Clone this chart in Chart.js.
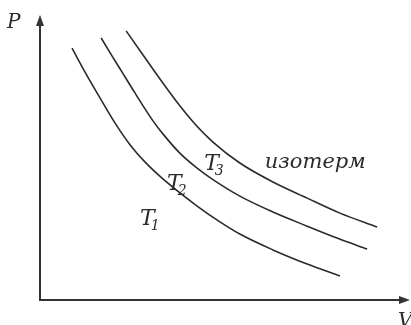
<!DOCTYPE html>
<html>
<head>
<meta charset="utf-8">
<script src="https://cdn.jsdelivr.net/npm/chart.js@4/dist/chart.umd.min.js"></script>
<style>
  html, body { margin: 0; padding: 0; background: #ffffff; }
  #wrap { width: 411px; height: 325px; position: relative; }
</style>
</head>
<body>
<div id="wrap"><canvas id="c"></canvas></div>
<script>
// Isotherms P(V) for three temperatures T1 < T2 < T3 (arbitrary units)
const volumeT1 = [0.87, 1.22, 1.63, 2.04, 2.45, 2.85, 3.34, 4.27, 4.89, 5.43, 6.33, 7.26, 8.15];
const pressureT1 = [8.90, 8.06, 7.14, 6.25, 5.48, 4.88, 4.28, 3.32, 2.76, 2.33, 1.77, 1.27, 0.85];

const volumeT2 = [1.66, 1.96, 2.26, 2.53, 2.80, 3.07, 3.34, 3.80, 4.27, 4.76, 5.43, 6.33, 7.26, 8.07, 8.89];
const pressureT2 = [9.26, 8.62, 7.99, 7.42, 6.86, 6.33, 5.87, 5.19, 4.66, 4.20, 3.67, 3.11, 2.61, 2.19, 1.80];

const volumeT3 = [2.34, 2.80, 3.26, 3.80, 4.21, 4.70, 5.43, 6.33, 7.26, 8.15, 9.16];
const pressureT3 = [9.51, 8.66, 7.81, 6.86, 6.22, 5.58, 4.84, 4.17, 3.60, 3.07, 2.58];

const curveNames = ['T1', 'T2', 'T3'];
const axisTitles = ['V', 'P'];
const captionText = 'изотерм';

const toPoints = (vs, ps) => vs.map((v, i) => ({ x: v, y: ps[i] }));

const INK = '#2b2b2b';
const SERIF = '"DejaVu Serif", "Liberation Serif", serif';

function curveDataset(label, vs, ps) {
  return {
    label,
    data: toPoints(vs, ps),
    showLine: true,
    borderColor: INK,
    borderWidth: 1.6,
    pointRadius: 0,
    cubicInterpolationMode: 'monotone',
    fill: false
  };
}

// Axes with arrowheads, plus curve and axis labels
const sketchPlugin = {
  id: 'sketch',
  afterDraw(chart) {
    const { ctx, chartArea: a, scales } = chart;
    const sx = scales.x, sy = scales.y;
    ctx.save();

    // axes
    ctx.strokeStyle = '#333';
    ctx.fillStyle = '#333';
    ctx.lineWidth = 2;
    ctx.beginPath();
    ctx.moveTo(a.left, a.top + 4);
    ctx.lineTo(a.left, a.bottom);
    ctx.lineTo(a.right - 4, a.bottom);
    ctx.stroke();
    // arrowheads
    ctx.beginPath();
    ctx.moveTo(a.left, a.top - 2);
    ctx.lineTo(a.left - 4, a.top + 9);
    ctx.lineTo(a.left + 4, a.top + 9);
    ctx.closePath();
    ctx.fill();
    ctx.beginPath();
    ctx.moveTo(a.right + 2, a.bottom);
    ctx.lineTo(a.right - 9, a.bottom - 4);
    ctx.lineTo(a.right - 9, a.bottom + 4);
    ctx.closePath();
    ctx.fill();

    ctx.fillStyle = INK;
    ctx.textBaseline = 'alphabetic';
    ctx.textAlign = 'left';

    // axis titles
    ctx.font = 'italic 20px ' + SERIF;
    ctx.fillText(axisTitles[1], a.left - 33, a.top + 11);
    ctx.fillText(axisTitles[0], a.right - 10, a.bottom + 27);

    // curve labels: T with subscript
    const anchors = [[2.72, 2.65], [3.45, 3.89], [4.46, 4.59]];
    curveNames.forEach((name, i) => {
      const px = sx.getPixelForValue(anchors[i][0]);
      const py = sy.getPixelForValue(anchors[i][1]);
      ctx.font = 'italic 22px ' + SERIF;
      ctx.fillText(name[0], px, py);
      const w = ctx.measureText(name[0]).width;
      ctx.font = 'italic 14px ' + SERIF;
      ctx.fillText(name.slice(1), px + w - 4, py + 5);
    });

    // caption
    ctx.font = 'italic 21px ' + SERIF;
    ctx.fillText(captionText, sx.getPixelForValue(6.11), sy.getPixelForValue(4.66));

    ctx.restore();
  }
};

new Chart(document.getElementById('c'), {
  type: 'scatter',
  data: {
    datasets: [
      curveDataset(curveNames[0], volumeT1, pressureT1),
      curveDataset(curveNames[1], volumeT2, pressureT2),
      curveDataset(curveNames[2], volumeT3, pressureT3)
    ]
  },
  options: {
    responsive: true,
    maintainAspectRatio: false,
    animation: false,
    layout: { padding: { left: 40, top: 17, right: 3, bottom: 25 } },
    plugins: {
      legend: { display: false },
      tooltip: { enabled: false }
    },
    scales: {
      x: { type: 'linear', min: 0, max: 10, display: false },
      y: { type: 'linear', min: 0, max: 10, display: false }
    }
  },
  plugins: [sketchPlugin]
});
</script>
</body>
</html>
